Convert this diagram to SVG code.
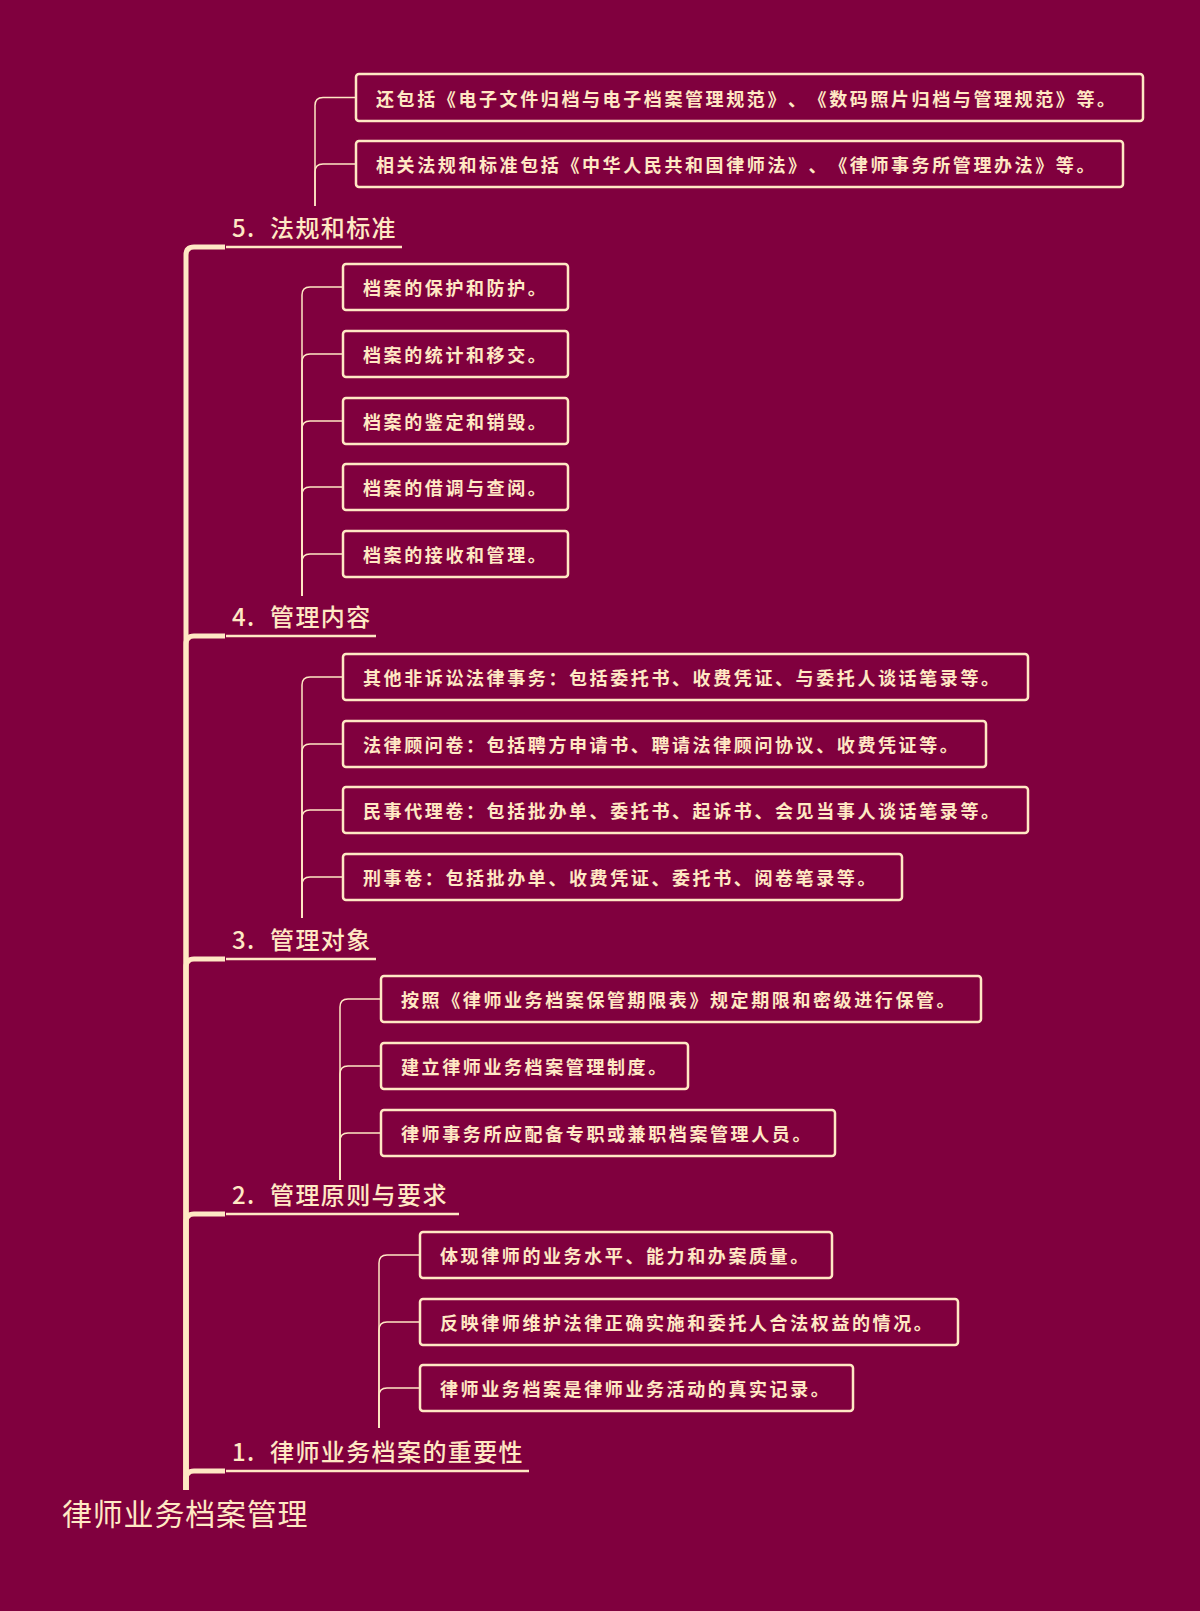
<svg xmlns="http://www.w3.org/2000/svg" width="1200" height="1611" viewBox="0 0 1200 1611">
<style>
.bg{fill:#80003E}
.box{fill:#80003E;stroke:#FFE8C4;stroke-width:2.5}
.bt{font-family:"Noto Sans CJK SC","Noto Sans",sans-serif;font-weight:bold;font-size:18px;letter-spacing:2.6px;fill:#FFE8C4;dominant-baseline:central;text-spacing-trim:space-all;font-feature-settings:"halt" 0,"chws" 0}
.lb{font-family:"Noto Sans CJK SC","Noto Sans",sans-serif;font-weight:500;font-size:24px;letter-spacing:1.4px;fill:#FFE8C4}
.root{font-family:"Noto Sans CJK SC","Noto Sans",sans-serif;font-size:30px;letter-spacing:0.8px;fill:#FFE8C4}
.trunk{fill:none;stroke:#FFE8C4;stroke-width:5}
.ul{fill:none;stroke:#FFE8C4;stroke-width:2.5}
.sub{fill:none;stroke:#FFE8C4;stroke-width:1.5}
</style>
<rect class="bg" x="0" y="0" width="1200" height="1611"/>
<g id="connectors">
<path class="trunk" d="M186,1490 V255 Q186,247 194,247 H225"/>
<path class="trunk" d="M186,1490 V644 Q186,636 194,636 H225"/>
<path class="trunk" d="M186,1490 V967 Q186,959 194,959 H225"/>
<path class="trunk" d="M186,1490 V1222 Q186,1214 194,1214 H225"/>
<path class="trunk" d="M186,1490 V1479 Q186,1471 194,1471 H225"/>
<path class="ul" d="M226,247 H402"/>
<path class="ul" d="M226,636 H376"/>
<path class="ul" d="M226,959 H376"/>
<path class="ul" d="M226,1214 H459"/>
<path class="ul" d="M226,1471 H529"/>
<path class="sub" d="M315,206 V105.5 Q315,97.5 323,97.5 H356"/>
<path class="sub" d="M315,206 V172 Q315,164 323,164 H356"/>
<path class="sub" d="M302,596 V295 Q302,287 310,287 H343"/>
<path class="sub" d="M302,596 V362 Q302,354 310,354 H343"/>
<path class="sub" d="M302,596 V429 Q302,421 310,421 H343"/>
<path class="sub" d="M302,596 V495 Q302,487 310,487 H343"/>
<path class="sub" d="M302,596 V562 Q302,554 310,554 H343"/>
<path class="sub" d="M302,918 V685 Q302,677 310,677 H343"/>
<path class="sub" d="M302,918 V752 Q302,744 310,744 H343"/>
<path class="sub" d="M302,918 V818 Q302,810 310,810 H343"/>
<path class="sub" d="M302,918 V885 Q302,877 310,877 H343"/>
<path class="sub" d="M340,1180 V1007 Q340,999 348,999 H381"/>
<path class="sub" d="M340,1180 V1074 Q340,1066 348,1066 H381"/>
<path class="sub" d="M340,1180 V1141 Q340,1133 348,1133 H381"/>
<path class="sub" d="M379,1428 V1263 Q379,1255 387,1255 H420"/>
<path class="sub" d="M379,1428 V1330 Q379,1322 387,1322 H420"/>
<path class="sub" d="M379,1428 V1396 Q379,1388 387,1388 H420"/>
</g>
<g id="root"><text class="root" x="62" y="1525">律师业务档案管理</text></g>
<g id="b5"><text class="lb" x="232" y="237">5.<tspan x="270">法规和标准</tspan></text></g>
<g id="b4"><text class="lb" x="232" y="626">4.<tspan x="270">管理内容</tspan></text></g>
<g id="b3"><text class="lb" x="232" y="949">3.<tspan x="270">管理对象</tspan></text></g>
<g id="b2"><text class="lb" x="232" y="1204">2.<tspan x="270">管理原则与要求</tspan></text></g>
<g id="b1"><text class="lb" x="232" y="1461">1.<tspan x="270">律师业务档案的重要性</tspan></text></g>
<g id="n5a"><rect class="box" x="356" y="74" width="787" height="47" rx="3"/><text class="bt" x="376" y="97.5">还包括《电子文件归档与电子档案管理规范》、《数码照片归档与管理规范》等。</text></g>
<g id="n5b"><rect class="box" x="356" y="141" width="767" height="46" rx="3"/><text class="bt" x="376" y="164">相关法规和标准包括《中华人民共和国律师法》、《律师事务所管理办法》等。</text></g>
<g id="n4a"><rect class="box" x="343" y="264" width="225" height="46" rx="3"/><text class="bt" x="363" y="287">档案的保护和防护。</text></g>
<g id="n4b"><rect class="box" x="343" y="331" width="225" height="46" rx="3"/><text class="bt" x="363" y="354">档案的统计和移交。</text></g>
<g id="n4c"><rect class="box" x="343" y="398" width="225" height="46" rx="3"/><text class="bt" x="363" y="421">档案的鉴定和销毁。</text></g>
<g id="n4d"><rect class="box" x="343" y="464" width="225" height="46" rx="3"/><text class="bt" x="363" y="487">档案的借调与查阅。</text></g>
<g id="n4e"><rect class="box" x="343" y="531" width="225" height="46" rx="3"/><text class="bt" x="363" y="554">档案的接收和管理。</text></g>
<g id="n3a"><rect class="box" x="343" y="654" width="685" height="46" rx="3"/><text class="bt" x="363" y="677">其他非诉讼法律事务：包括委托书、收费凭证、与委托人谈话笔录等。</text></g>
<g id="n3b"><rect class="box" x="343" y="721" width="643" height="46" rx="3"/><text class="bt" x="363" y="744">法律顾问卷：包括聘方申请书、聘请法律顾问协议、收费凭证等。</text></g>
<g id="n3c"><rect class="box" x="343" y="787" width="685" height="46" rx="3"/><text class="bt" x="363" y="810">民事代理卷：包括批办单、委托书、起诉书、会见当事人谈话笔录等。</text></g>
<g id="n3d"><rect class="box" x="343" y="854" width="559" height="46" rx="3"/><text class="bt" x="363" y="877">刑事卷：包括批办单、收费凭证、委托书、阅卷笔录等。</text></g>
<g id="n2a"><rect class="box" x="381" y="976" width="600" height="46" rx="3"/><text class="bt" x="401" y="999">按照《律师业务档案保管期限表》规定期限和密级进行保管。</text></g>
<g id="n2b"><rect class="box" x="381" y="1043" width="307" height="46" rx="3"/><text class="bt" x="401" y="1066">建立律师业务档案管理制度。</text></g>
<g id="n2c"><rect class="box" x="381" y="1110" width="454" height="46" rx="3"/><text class="bt" x="401" y="1133">律师事务所应配备专职或兼职档案管理人员。</text></g>
<g id="n1a"><rect class="box" x="420" y="1232" width="412" height="46" rx="3"/><text class="bt" x="440" y="1255">体现律师的业务水平、能力和办案质量。</text></g>
<g id="n1b"><rect class="box" x="420" y="1299" width="538" height="46" rx="3"/><text class="bt" x="440" y="1322">反映律师维护法律正确实施和委托人合法权益的情况。</text></g>
<g id="n1c"><rect class="box" x="420" y="1365" width="433" height="46" rx="3"/><text class="bt" x="440" y="1388">律师业务档案是律师业务活动的真实记录。</text></g>
</svg>
